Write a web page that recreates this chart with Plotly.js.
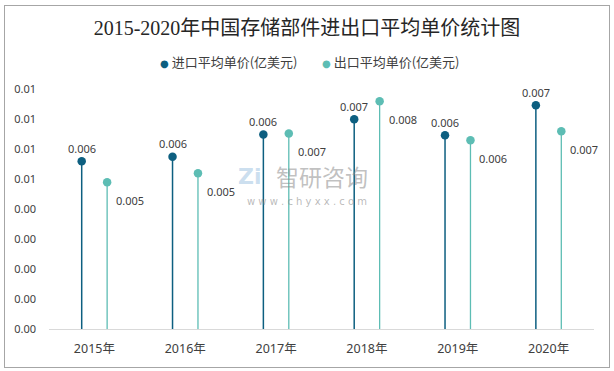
<!DOCTYPE html>
<html>
<head>
<meta charset="utf-8">
<script src="https://cdn.plot.ly/plotly-3.0.1.min.js"></script>
<style>
  html, body { margin: 0; padding: 0; background: #fff; }
  #wrap { position: relative; width: 614px; height: 371px; }
  #chart { width: 614px; height: 371px; }
  #frame { position: absolute; left: 4px; top: 5px; width: 604px; height: 361px;
           border: 1.5px solid #a6a6a6; pointer-events: none; }
</style>
</head>
<body>
<div id="wrap"><div id="chart"></div><div id="frame"></div></div>
<script>
// ---- data ----
const years = ["2015年", "2016年", "2017年", "2018年", "2019年", "2020年"];
const importName = "进口平均单价(亿美元)";
const exportName = "出口平均单价(亿美元)";
const importPrice = [0.00559, 0.00574, 0.00648, 0.00699, 0.00646, 0.00746];
const exportPrice = [0.00489, 0.00519, 0.00652, 0.00759, 0.00629, 0.00659];
const yTickVals = [0, 0.001, 0.002, 0.003, 0.004, 0.005, 0.006, 0.007, 0.008];
const yTickText = ["0.00", "0.00", "0.00", "0.00", "0.00", "0.01", "0.01", "0.01", "0.01"];
const titleText = "2015-2020年中国存储部件进出口平均单价统计图";

// ---- style ----
const cImp = "#0d5f80";
const cExp = "#5dbdb4";
const txt = "#404040";
const L = 49, R = 20, T = 89, B = 42, W = 614 - L - R, H = 371 - T - B;
const off = 0.14;
const px2x = p => (p - L) / W;
const py2y = p => (371 - B - p) / H;

const idx = years.map((_, i) => i);
const xImp = idx.map(i => i - off);
const xExp = idx.map(i => i + off);

function stemTrace(x, y, color, name, thick) {
  return {
    type: "scatter", mode: "markers", x: x, y: y, name: name,
    marker: { color: color, size: 8.5 },
    error_y: { type: "data", symmetric: false, array: y.map(() => 0), arrayminus: y,
               width: 0, thickness: thick, color: color },
    hoverinfo: "y", showlegend: false, cliponaxis: false
  };
}

const traces = [
  stemTrace(xImp, importPrice, cImp, importName, 1.5),
  stemTrace(xExp, exportPrice, cExp, exportName, 1.3)
];

const lblFont = { family: "Noto Sans, Open Sans, sans-serif", size: 11, color: txt };
const annotations = [];
importPrice.forEach((v, i) => annotations.push({
  x: xImp[i], y: v, xref: "x", yref: "y", text: v.toFixed(3), showarrow: false,
  yshift: 13, font: lblFont
}));
exportPrice.forEach((v, i) => annotations.push({
  x: xExp[i], y: v, xref: "x", yref: "y", text: v.toFixed(3), showarrow: false,
  xshift: 23, yshift: -18, font: lblFont
}));

// custom legend
const legFont = { family: "Noto Sans CJK SC, sans-serif", size: 13, color: txt };
[[importName, cImp, 158], [exportName, cExp, 320]].forEach(([n, c, p]) => annotations.push({
  x: px2x(p), y: py2y(62), xref: "paper", yref: "paper", xanchor: "left", yanchor: "middle",
  showarrow: false, font: legFont,
  text: '<span style="color:' + c + ';font-size:10px;font-family:DejaVu Sans">●</span> ' + n
}));

// watermark
annotations.push({
  x: px2x(250), y: py2y(176), xref: "paper", yref: "paper", showarrow: false,
  text: "<b>Zi</b>", font: { family: "DejaVu Sans", size: 22, color: "rgba(160,195,225,0.55)" }
});
annotations.push({
  x: px2x(322), y: py2y(176), xref: "paper", yref: "paper", showarrow: false,
  text: "智研咨询", font: { family: "Noto Sans CJK SC", size: 23, color: "rgba(140,140,140,0.55)" }
});
annotations.push({
  x: px2x(307), y: py2y(201), xref: "paper", yref: "paper", showarrow: false,
  text: "w w w . c h y x x . c o m", font: { family: "DejaVu Sans", size: 10, color: "rgba(140,140,140,0.6)" }
});

const layout = {
  width: 614, height: 371,
  margin: { l: L, r: R, t: T, b: B, pad: 0 },
  paper_bgcolor: "#fff", plot_bgcolor: "#fff",
  title: {
    text: titleText, x: 0.5, xanchor: "center", y: 1 - 28 / 371, yanchor: "middle",
    font: { family: "Liberation Serif, Noto Sans CJK SC, serif", size: 20, color: "#262626" }
  },
  xaxis: {
    range: [-0.5, 5.5], tickvals: idx, ticktext: years, showgrid: false, zeroline: false,
    showline: true, linecolor: "#d9d9d9", linewidth: 1, ticks: "", ticklabelstandoff: 8,
    tickfont: { family: "Noto Sans, Noto Sans CJK SC, sans-serif", size: 12.5, color: txt },
    fixedrange: true
  },
  yaxis: {
    range: [0, 0.008], tickvals: yTickVals, ticktext: yTickText, showgrid: false,
    zeroline: false, showline: false, ticks: "", ticklabelstandoff: 12,
    tickfont: { family: "Noto Sans, sans-serif", size: 11, color: txt },
    fixedrange: true
  },
  showlegend: false,
  annotations: annotations
};

Plotly.newPlot("chart", traces, layout, { displayModeBar: false, staticPlot: true });
</script>
</body>
</html>
